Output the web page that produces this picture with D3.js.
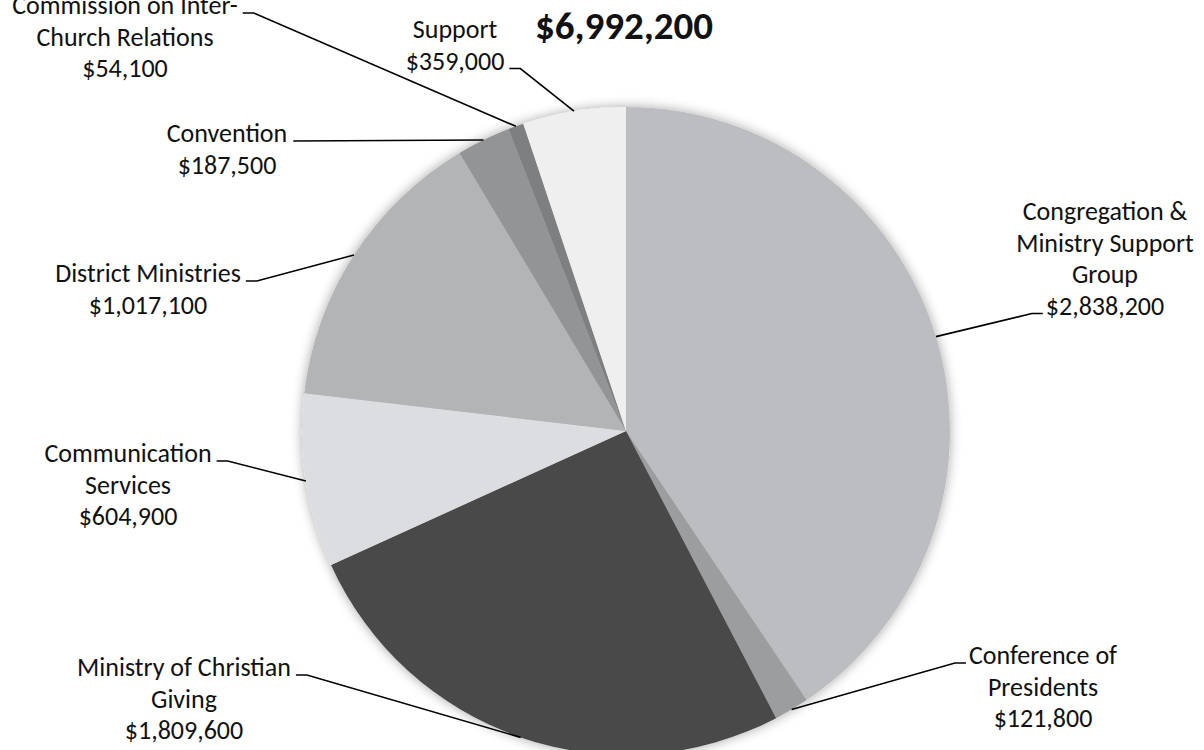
<!DOCTYPE html>
<html>
<head>
<meta charset="utf-8">
<script src="https://cdn.jsdelivr.net/npm/d3@7/dist/d3.min.js"></script>
<style>
  html, body { margin: 0; padding: 0; background: #fff; }
  svg { display: block; }
  text { font-family: Carlito, Calibri, Lato, "Open Sans", sans-serif; fill: #111; }
</style>
</head>
<body>
<svg id="chart" width="1204" height="750"></svg>
<script>
// ---- data ----
const categories = [
  "Congregation & Ministry Support Group",
  "Conference of Presidents",
  "Ministry of Christian Giving",
  "Communication Services",
  "District Ministries",
  "Convention",
  "Commission on Inter-Church Relations",
  "Support"
];
const values = [2838200, 121800, 1809600, 604900, 1017100, 187500, 54100, 359000];
const labelLines = [
  ["Congregation &", "Ministry Support", "Group"],
  ["Conference of", "Presidents"],
  ["Ministry of Christian", "Giving"],
  ["Communication", "Services"],
  ["District Ministries"],
  ["Convention"],
  ["Commission on Inter-", "Church Relations"],
  ["Support"]
];
const colors = ["#bcbdc0", "#9c9d9f", "#48484a", "#dcdde0", "#b3b4b6", "#939496", "#7e7f81", "#efeff0"];
const totalLabel = "$6,992,200";

// ---- layout (positions of label blocks) ----
const labelLayout = [
  { x: 1105, y: 211, attach: 3, side: "left" },
  { x: 1043, y: 655, attach: 0, side: "left" },
  { x: 184,  y: 667, attach: 0, side: "right" },
  { x: 128,  y: 453, attach: 0, side: "right" },
  { x: 148,  y: 273, attach: 0, side: "right" },
  { x: 227,  y: 133, attach: 0, side: "right", direct: true },
  { x: 125,  y: 5,   attach: 0, side: "right" },
  { x: 455,  y: 29,  attach: 1, side: "right" }
];

const cx = 626, cy = 431, R = 324;
const fontSize = 26, lineH = 31.5;
const fmt = d3.format("$,");

const svg = d3.select("#chart");
const defs = svg.append("defs");
const f = defs.append("filter").attr("id", "glow")
  .attr("x", "-10%").attr("y", "-10%").attr("width", "120%").attr("height", "120%");
f.append("feDropShadow").attr("dx", 0).attr("dy", 0)
  .attr("stdDeviation", 6).attr("flood-color", "#000").attr("flood-opacity", 0.35);

const pie = d3.pie().sort(null).value(d => d)(values);
const arc = d3.arc().innerRadius(0).outerRadius(R);
const edge = d3.arc().innerRadius(R).outerRadius(R);

const g = svg.append("g").attr("transform", `translate(${cx},${cy})`);
g.append("g").attr("filter", "url(#glow)")
  .selectAll("path").data(pie).join("path")
  .attr("d", arc)
  .attr("fill", (d, i) => colors[i]);

// labels
const lg = svg.append("g");
pie.forEach((d, i) => {
  const L = labelLayout[i];
  const lines = labelLines[i].concat([fmt(values[i])]);
  const t = lg.append("g");
  const texts = lines.map((s, k) =>
    t.append("text")
      .attr("x", L.x)
      .attr("y", L.y + k * lineH + 9)
      .attr("text-anchor", "middle")
      .attr("font-size", fontSize)
      .text(s));
  const node = texts[L.attach].node();
  const w = node.getComputedTextLength();
  const by = L.y + L.attach * lineH + 8;
  const [ex, ey] = edge.centroid(d);
  const px = cx + ex, py = cy + ey;
  let pts;
  if (L.direct) {
    const x0 = L.x + w / 2 + 6;
    pts = [[x0, by], [px, py]];
  } else if (L.side === "right") {
    const x0 = L.x + w / 2 + 5;
    pts = [[x0, by], [x0 + 11, by], [px, py]];
  } else {
    const x0 = L.x - w / 2 - 3;
    pts = [[x0, by], [x0 - 11, by], [px, py]];
  }
  lg.append("path")
    .attr("d", d3.line()(pts))
    .attr("fill", "none")
    .attr("stroke", "#000")
    .attr("stroke-width", 1.6);
});

svg.append("text")
  .attr("x", 624).attr("y", 39)
  .attr("text-anchor", "middle")
  .attr("font-size", 39)
  .attr("font-weight", "bold")
  .text(totalLabel);
</script>
</body>
</html>
